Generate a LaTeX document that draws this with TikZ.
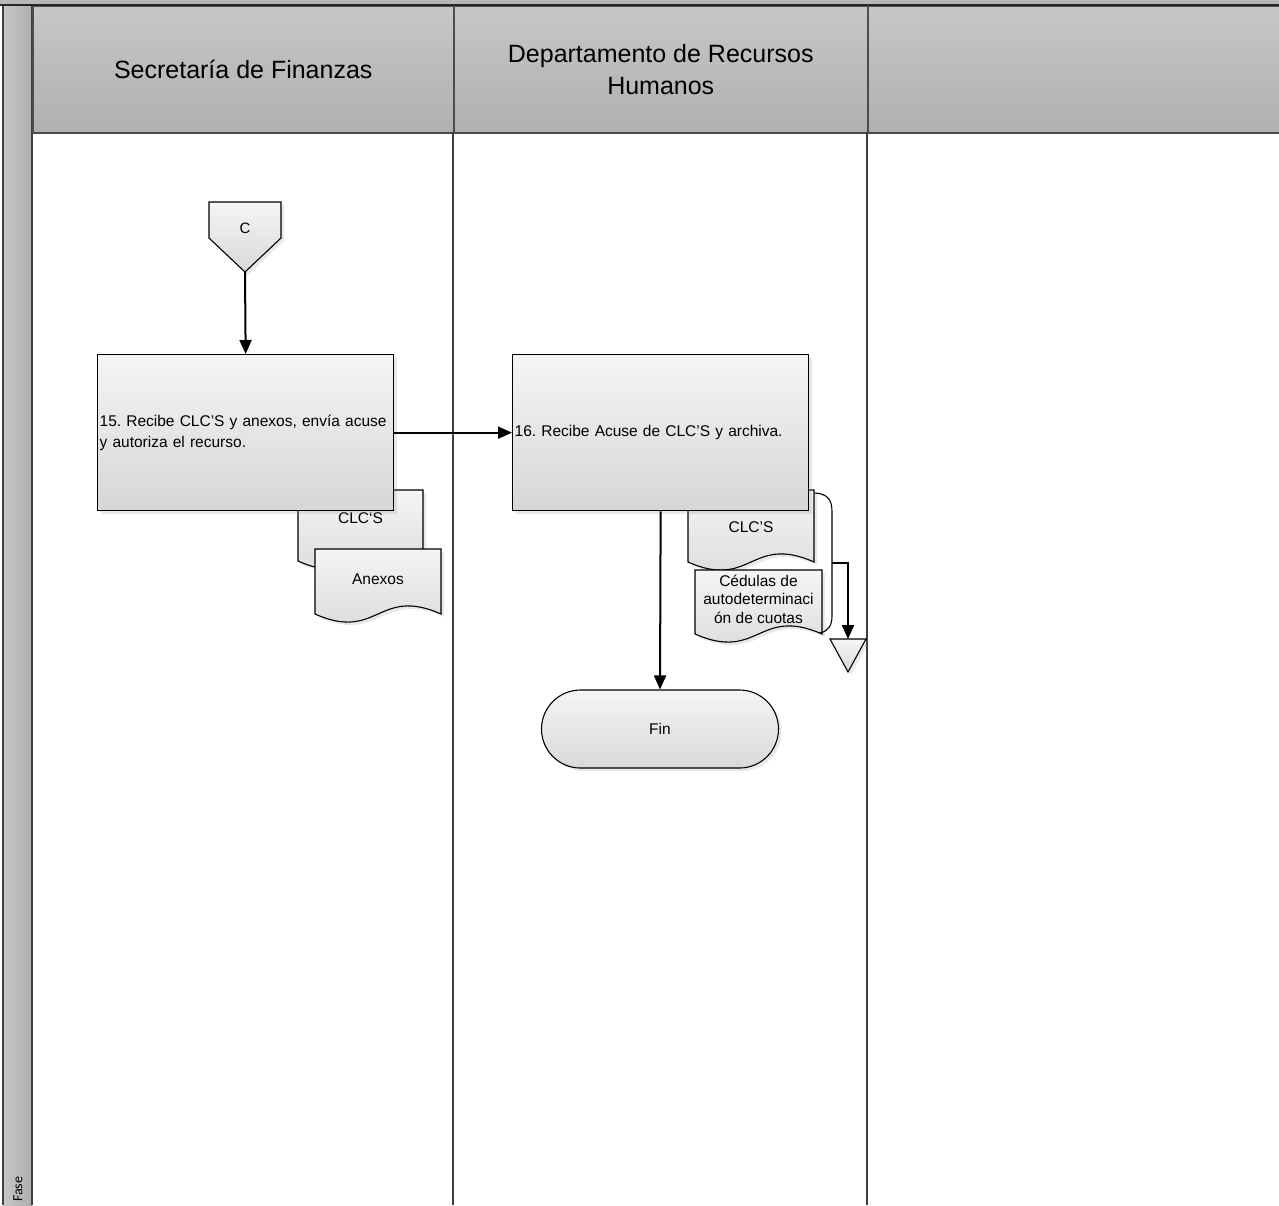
\documentclass[tikz,border=0pt]{standalone}
\usepackage{fontspec}
\setmainfont{Liberation Sans}
\newfontfamily\fasefont{Carlito}
\usetikzlibrary{arrows.meta,shadows,calc}
\frenchspacing
\newcommand\mydoc[7]{%
  \pgfmathsetmacro{\dw}{#4-#2}%
  \path[docshape] (#2,#3) -- (#4,#3) -- (#4,#5)
     .. controls ({#4-0.5*\dw},{#5-28}) and ({#2+0.5*\dw},{#5+28}) .. (#2,#5) -- cycle;
  \node[doctext] (#1) at ({(#2+#4)/2},#6) {#7};
}
\begin{document}
\begin{tikzpicture}[x=1pt,y=-1pt,
  frame/.style={draw=black!75, line width=1.6pt},
  hdr/.style={draw=black!70, line width=1.5pt, top color=black!22, bottom color=black!31,
    font=\fontsize{25}{32}\selectfont, align=center, anchor=north west, inner sep=0pt},
  procbox/.style={draw=black, line width=1.3pt, top color=black!4, bottom color=black!16,
    drop shadow={opacity=0.18, shadow xshift=3pt, shadow yshift=-3pt},
    anchor=north west, inner xsep=2pt, inner ysep=4pt, align=left, text width=292pt, minimum height=156pt,
    font=\fontsize{15.5}{21}\selectfont},
  docshape/.style={draw=black, line width=1.1pt, top color=black!4, bottom color=black!15,
    drop shadow={opacity=0.18, shadow xshift=3pt, shadow yshift=-3pt}},
  doctext/.style={font=\fontsize{15.5}{18.5}\selectfont, align=center, inner sep=0pt},
  flow/.style={draw=black, line width=2pt, -{Triangle[length=14pt,width=12pt]}},
  graybox/.style={draw=black, line width=1.1pt, top color=black!4, bottom color=black!15,
    drop shadow={opacity=0.18, shadow xshift=3pt, shadow yshift=-3pt}}
]
\useasboundingbox (0,0) rectangle (1279,1205);
% top gray band
\fill[black!28] (0,0) rectangle (1279,5);
% left strip
\shade[left color=black!22, right color=black!32] (3,5) rectangle (32,1205);
\draw[frame] (3,5) -- (3,1205);
\draw[frame] (32,5) -- (32,1205);
\node[rotate=90, anchor=west, font=\fasefont\fontsize{14}{16}\selectfont, inner sep=0pt] (fase) at (18,1202) {Fase};
% headers
\node[hdr, minimum width=421pt, minimum height=127pt] (h1) at (32,5) {Secretaría de Finanzas};
\node[hdr, minimum width=414pt, minimum height=127pt] (h2) at (453,5) {Departamento de Recursos\\Humanos};
\node[hdr, minimum width=420pt, minimum height=127pt] (h3) at (867,5) {};
\draw[black!85, line width=2.2pt] (0,5) -- (1279,5);
% lane lines
\draw[frame] (453,132) -- (453,1205);
\draw[frame] (867,132) -- (867,1205);

% documents (behind boxes)
\mydoc{d1}{298}{490}{423}{561}{518}{CLC\symbol{96}S}
\mydoc{d2}{315}{549}{441}{614}{579}{Anexos}
\mydoc{d3}{688}{490}{814}{562}{527}{CLC’S}
\mydoc{d4}{695}{570}{822}{634}{599}{Cédulas de\\autodeterminaci\\ón de cuotas}

% off-page connector
\path[graybox] (209,202) -- (281,202) -- (281,238) -- (245,272) -- (209,238) -- cycle;
\node[font=\fontsize{15}{18}\selectfont] (C) at (245,228) {C};
\coordinate (Ctip) at (245,272);

% process boxes
\node[procbox] (p15) at (97,354) {15. Recibe CLC’S y anexos, envía acuse\\y autoriza el recurso.};
\node[procbox] (p16) at (512,354) {16. Recibe Acuse de CLC’S y archiva.};

% terminal
\node[graybox, rounded corners=39pt, minimum width=237pt, minimum height=78pt,
  font=\fontsize{15.5}{18}\selectfont] (fin) at (660,729) {Fin};

% brace and archive
\draw[black, line width=1.1pt] (815,493) .. controls (828,494) and (832,500) .. (832,512)
   -- (832,616) .. controls (832,626) and (828,631) .. (820,633);
\coordinate (bm) at (832,563);
\path[graybox] (830,639) -- (866,639) -- (848,672) -- cycle;
\coordinate (arch) at (848,639);

% connectors
\draw[flow] (Ctip) -- (p15.north);
\draw[flow] (p15.east) -- (p16.west);
\draw[flow] (p16.south) -- (fin.north);
\draw[flow] (bm) -| (arch);
\end{tikzpicture}
\end{document}
